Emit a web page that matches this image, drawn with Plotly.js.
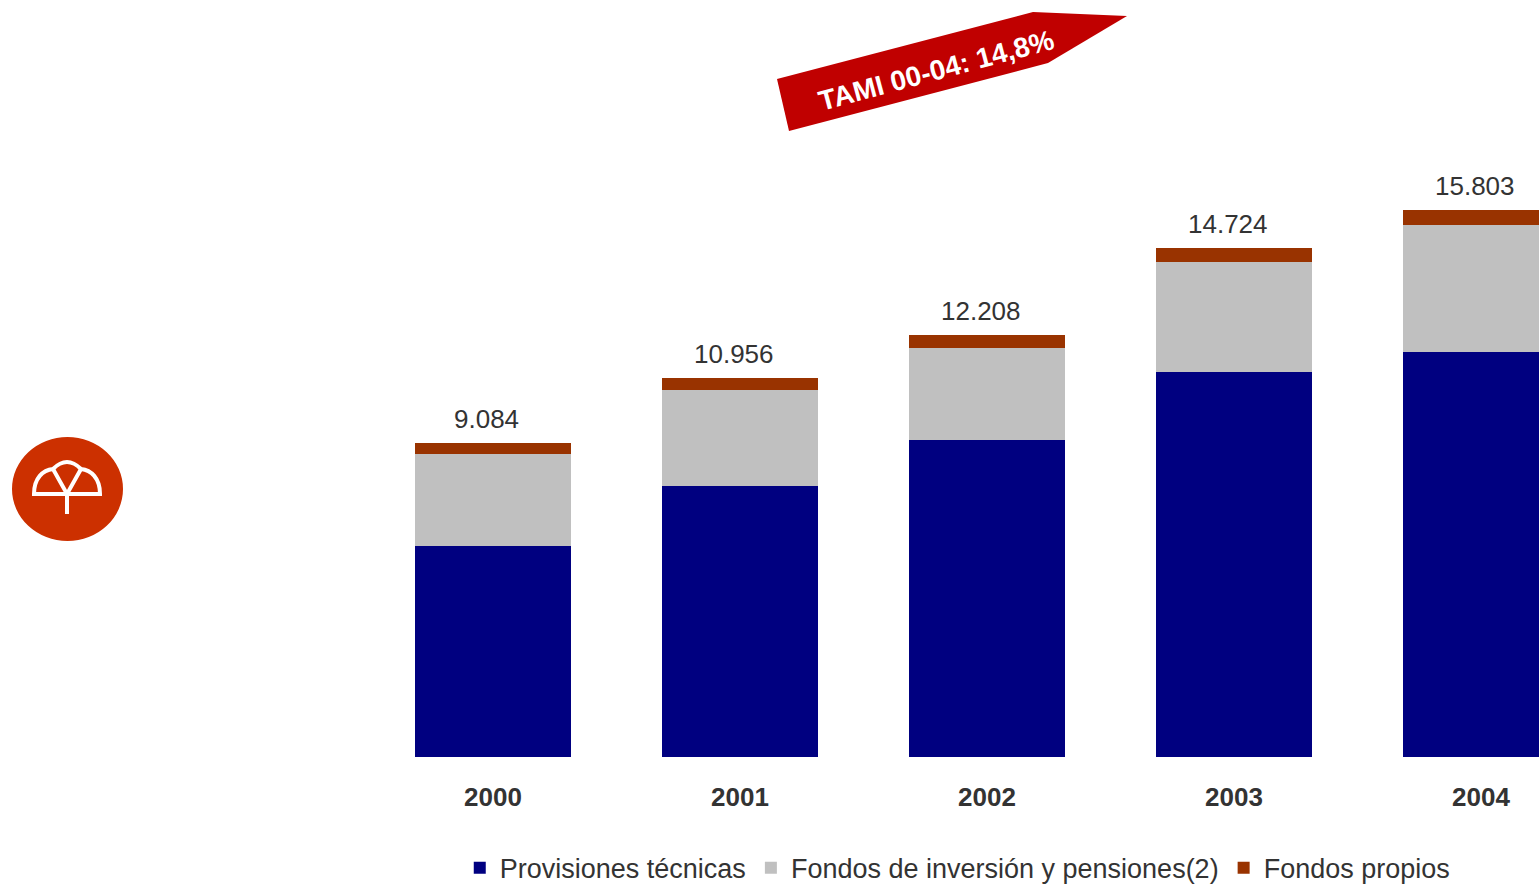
<!DOCTYPE html>
<html>
<head>
<meta charset="utf-8">
<script src="https://cdn.plot.ly/plotly-3.0.1.min.js"></script>
<style>
  body{margin:0;background:#fff;}
  #chart{width:1539px;height:885px;}
</style>
</head>
<body>
<div id="chart"></div>
<script>
// Datos (millones de euros)
var years = ["2000", "2001", "2002", "2003", "2004"];
var provisiones = [6098, 7832, 9162, 11127, 11705];
var fondosInversion = [2659, 2775, 2659, 3179, 3671];
var fondosPropios = [327, 349, 387, 418, 427];
var totals = [9084, 10956, 12208, 14724, 15803];
var tamiText = "TAMI 00-04: 14,8%";

// page pixels -> paper coords (plot area is 0..1539 wide, 0..757 high)
var W = 1539, plotBottom = 757;
function px(x){ return x / W; }
function py(y){ return (plotBottom - y) / plotBottom; }
function pt(x, y){ return px(x) + "," + py(y); }

// 9084 -> "9.084"
function fmt(n){
  return n.toString().replace(/\B(?=(\d{3})+(?!\d))/g, ".");
}

var font = "Liberation Sans, Arial, sans-serif";

var data = [
  {type: "bar", name: "Provisiones técnicas", x: years, y: provisiones,
   marker: {color: "#000080"}, hoverinfo: "y"},
  {type: "bar", name: "Fondos de inversión y pensiones(2)", x: years, y: fondosInversion,
   marker: {color: "#C0C0C0"}, hoverinfo: "y"},
  {type: "bar", name: "Fondos propios", x: years, y: fondosPropios,
   marker: {color: "#993300"}, hoverinfo: "y"}
];

// total labels above each bar (x by category index)
var annotations = [];
for (var i = 0; i < years.length; i++) {
  annotations.push({
    x: i, y: totals[i], xref: "x", yref: "y",
    text: fmt(totals[i]), showarrow: false,
    xanchor: "center", yanchor: "bottom", yshift: 7, xshift: -6,
    font: {family: font, size: 26, color: "#333333"}
  });
}
// banner text
annotations.push({
  x: px(936), y: py(70), xref: "paper", yref: "paper",
  xanchor: "center", yanchor: "middle",
  text: "<b>" + tamiText + "</b>", showarrow: false, textangle: -15,
  font: {family: font, size: 28, color: "#ffffff"}
});

var shapes = [
  // red arrow banner
  {type: "path", xref: "paper", yref: "paper", layer: "below",
   path: "M" + pt(789, 131) + " L" + pt(777, 79) + " L" + pt(1033, 12) +
         " L" + pt(1127, 16) + " L" + pt(1048, 63) + " Z",
   fillcolor: "#C00000", line: {width: 0}},
  // logo circle
  {type: "circle", xref: "paper", yref: "paper",
   x0: px(12), x1: px(123), y0: py(541), y1: py(437),
   fillcolor: "#CC3000", line: {width: 0}},
  // umbrella outline
  {type: "path", xref: "paper", yref: "paper",
   path: "M" + pt(34, 494) + " C" + pt(34, 478) + " " + pt(43, 470) + " " + pt(53, 469) +
         " Q" + pt(67, 455) + " " + pt(81, 469) +
         " C" + pt(91, 470) + " " + pt(100, 478) + " " + pt(100, 494) + " Z",
   line: {color: "#ffffff", width: 4}},
  {type: "path", xref: "paper", yref: "paper",
   path: "M" + pt(53, 469) + " L" + pt(67, 494) + " L" + pt(81, 469),
   line: {color: "#ffffff", width: 4}},
  {type: "path", xref: "paper", yref: "paper",
   path: "M" + pt(67, 494) + " L" + pt(67, 514),
   line: {color: "#ffffff", width: 4}}
];

var layout = {
  width: 1539, height: 885,
  margin: {l: 0, r: 0, t: 0, b: 128, autoexpand: false},
  paper_bgcolor: "#ffffff", plot_bgcolor: "rgba(0,0,0,0)",
  barmode: "stack", bargap: 0.372,
  font: {family: font, color: "#333333"},
  xaxis: {
    type: "category", range: [-1.996, 4.235],
    showgrid: false, zeroline: false, showline: false, ticks: "",
    ticklabelstandoff: 22,
    tickfont: {family: font, size: 26, color: "#333333", weight: "bold"}
  },
  yaxis: {range: [0, 21879], visible: false, showgrid: false, zeroline: false},
  showlegend: true,
  legend: {
    orientation: "h", x: 0.622, xanchor: "center", y: -0.147, yanchor: "middle",
    traceorder: "normal",
    font: {family: font, size: 27, color: "#333333"}
  },
  annotations: annotations,
  shapes: shapes
};

Plotly.newPlot("chart", data, layout, {displayModeBar: false, staticPlot: true});
</script>
</body>
</html>
